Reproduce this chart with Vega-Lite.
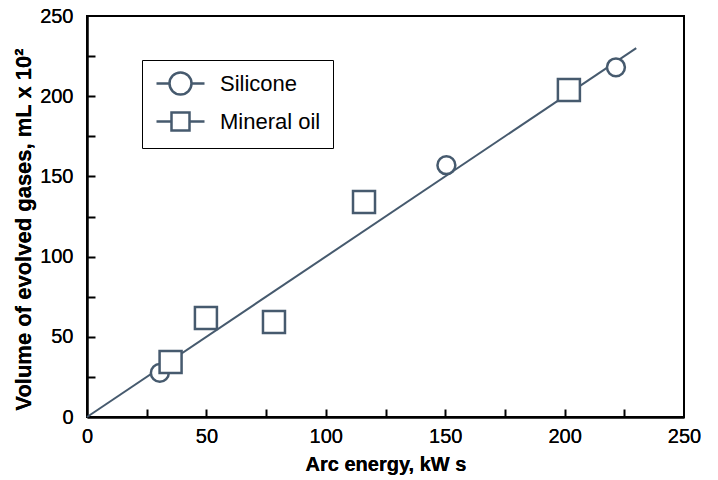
{
  "$schema": "https://vega.github.io/schema/vega-lite/v6.json",
  "width": 597,
  "height": 401,
  "autosize": {"type": "none"},
  "padding": {"left": 87, "top": 16, "right": 34, "bottom": 63},
  "background": "white",
  "datasets": {
    "fit": [{"energy": 0, "volume": 0}, {"energy": 230, "volume": 230}],
    "pts": [
      {"energy": 30.5, "volume": 27.5, "series": "Silicone"},
      {"energy": 150.5, "volume": 157, "series": "Silicone"},
      {"energy": 221.5, "volume": 218, "series": "Silicone"},
      {"energy": 35, "volume": 34.3, "series": "Mineral oil"},
      {"energy": 49.8, "volume": 61.7, "series": "Mineral oil"},
      {"energy": 78.3, "volume": 59.2, "series": "Mineral oil"},
      {"energy": 116, "volume": 134, "series": "Mineral oil"},
      {"energy": 201.8, "volume": 203.8, "series": "Mineral oil"}
    ]
  },
  "encoding": {
    "x": {
      "field": "energy", "type": "quantitative",
      "scale": {"domain": [0, 250], "nice": false, "zero": false},
      "axis": {
        "orient": "bottom",
        "title": "Arc energy, kW s",
        "values": [0, 50, 100, 150, 200, 250],
        "ticks": false,
        "labelFlush": false,
        "labelPadding": 9,
        "titlePadding": 8
      }
    },
    "y": {
      "field": "volume", "type": "quantitative",
      "scale": {"domain": [0, 250], "nice": false, "zero": false},
      "axis": {
        "orient": "left",
        "title": "Volume of evolved gases, mL x 10²",
        "values": [0, 50, 100, 150, 200, 250],
        "ticks": false,
        "labelFlush": false,
        "labelPadding": 14,
        "titlePadding": 4,
        "titleFontSize": 22,
        "titleY": 213
      }
    }
  },
  "layer": [
    {
      "data": {"name": "fit"},
      "mark": {"type": "line", "stroke": "#465a6e", "strokeWidth": 2},
      "encoding": {
        "x": {
          "field": "energy", "type": "quantitative",
          "scale": {"domain": [0, 250], "nice": false, "zero": false},
          "axis": {"orient": "bottom", "title": null, "labels": false, "domain": false, "ticks": true, "tickSize": 8, "offset": -8,
                   "values": [25, 50, 75, 100, 125, 150, 175, 200, 225]}
        },
        "y": {
          "field": "volume", "type": "quantitative",
          "scale": {"domain": [0, 250], "nice": false, "zero": false},
          "axis": {"orient": "left", "title": null, "labels": false, "domain": false, "ticks": true, "tickSize": 8, "offset": -8,
                   "values": [25, 50, 75, 100, 125, 150, 175, 200, 225]}
        }
      }
    },
    {
      "data": {"name": "pts"},
      "mark": {"type": "point", "filled": false, "fill": "white", "fillOpacity": 1, "stroke": "#465a6e", "strokeWidth": 2.5, "opacity": 1},
      "encoding": {
        "shape": {"field": "series", "type": "nominal", "scale": {"domain": ["Silicone", "Mineral oil"], "range": ["circle", "square"]}, "legend": null},
        "size": {"field": "series", "type": "nominal", "scale": {"domain": ["Silicone", "Mineral oil"], "range": [320, 484]}, "legend": null}
      }
    },
    {
      "data": {"name": "pts"},
      "mark": {"type": "point", "filled": false, "stroke": "#465a6e", "strokeWidth": 2.5, "opacity": 0, "size": 400},
      "encoding": {
        "shape": {
          "field": "series", "type": "nominal",
          "scale": {"domain": ["Silicone", "Mineral oil"], "range": [
            "M -2.4 0 L -1.1 0 M 1.1 0 L 2.4 0 M 1.1 0 A 1.1 1.1 0 1 1 -1.1 0 A 1.1 1.1 0 1 1 1.1 0 Z",
            "M -2.4 0 L -0.9 0 M 0.9 0 L 2.4 0 M -0.9 -0.9 L 0.9 -0.9 L 0.9 0.9 L -0.9 0.9 Z"
          ]},
          "legend": {
            "title": null,
            "orient": "none",
            "legendX": 55,
            "legendY": 44,
            "padding": 12,
            "strokeColor": "black",
            "fillColor": "white",
            "symbolSize": 400,
            "symbolOffset": 15,
            "labelOffset": 28,
            "rowPadding": 7,
            "symbolOpacity": 1,
            "symbolFillColor": "white",
            "symbolStrokeColor": "#465a6e",
            "symbolStrokeWidth": 2.5,
            "labelFont": "Liberation Sans",
            "labelFontSize": 22,
            "labelColor": "black"
          }
        }
      }
    }
  ],
  "resolve": {"scale": {"shape": "independent", "size": "independent"}, "axis": {"x": "independent", "y": "independent"}},
  "config": {
    "view": {"stroke": "black", "strokeWidth": 2},
    "axis": {
      "grid": false,
      "domainColor": "black",
      "domainWidth": 2,
      "tickColor": "black",
      "tickWidth": 2,
      "labelFont": "Liberation Sans",
      "labelFontSize": 20,
      "labelColor": "black",
      "titleFont": "Liberation Sans",
      "titleFontSize": 20,
      "titleFontWeight": "bold",
      "titleColor": "black"
    }
  }
}
